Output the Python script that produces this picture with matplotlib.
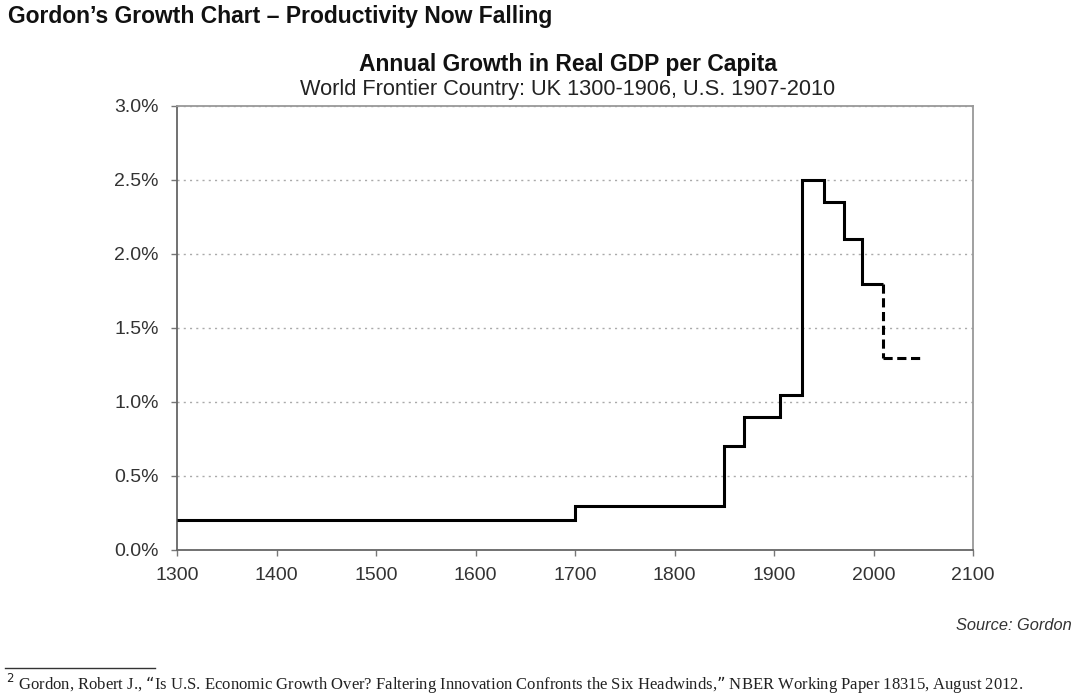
import matplotlib
matplotlib.use('Agg')
import matplotlib.pyplot as plt
from matplotlib.ticker import FuncFormatter

# step edges (years) and growth rate (%) on each step
years = [1300, 1700, 1850, 1870, 1906, 1928, 1950, 1970, 1988, 2010]
growth = [0.2, 0.3, 0.7, 0.9, 1.05, 2.5, 2.35, 2.1, 1.8]
# projection
proj_years = [2010, 2050]
proj_growth = [1.3, 1.3]

plt.rcParams['font.family'] = ['Liberation Sans', 'DejaVu Sans']

fig = plt.figure(figsize=(10.84, 7), dpi=100)
ax = fig.add_axes([177 / 1084, 1 - 550 / 700, (973 - 177) / 1084, (550 - 106) / 700])
ax.set_axisbelow(True)

ax.stairs(growth, years, color='black', lw=2.2, baseline=None, zorder=3)
ax.plot([proj_years[0], proj_years[0]], [growth[-1], proj_growth[0]], color='black', lw=2.2,
        ls=(0, (3, 1.5)), zorder=3)
ax.plot(proj_years, proj_growth, color='black', lw=2.2, ls=(0, (3, 1.5)), zorder=3)

ax.set_xlim(1300, 2100)
ax.set_ylim(0, 3.0)
ax.set_xticks(range(1300, 2101, 100))
ax.set_yticks([0, 0.5, 1.0, 1.5, 2.0, 2.5, 3.0])
ax.yaxis.set_major_formatter(FuncFormatter(lambda v, p: '%.1f%%' % v))
ax.grid(axis='y', color='#aaaaaa', ls=(0, (1.5, 3)), lw=1, zorder=0)
ax.tick_params(labelsize=14, colors='#333333', length=4, width=1)
ax.tick_params(axis='y', pad=9)
ax.tick_params(axis='x', pad=8)
ax.tick_params(axis='both', color='#777777')
for s in ['left', 'bottom']:
    ax.spines[s].set_color('#666666')
    ax.spines[s].set_linewidth(1.3)
for s in ['top', 'right']:
    ax.spines[s].set_color('#999999')
    ax.spines[s].set_linewidth(1.3)

fig.text(8 / 1084, 1 - 16 / 700, 'Gordon\u2019s Growth Chart \u2013 Productivity Now Falling',
         fontsize=16.5, fontweight='bold', va='center', ha='left', color='#111111')
fig.text(568 / 1084, 1 - 64 / 700, 'Annual Growth in Real GDP per Capita',
         fontsize=16.5, fontweight='bold', va='center', ha='center', color='#111111')
fig.text(568 / 1084, 1 - 89 / 700, 'World Frontier Country: UK 1300-1906, U.S. 1907-2010',
         fontsize=15.7, va='center', ha='center', color='#222222')
fig.text(1072 / 1084, 1 - 626 / 700, 'Source: Gordon', fontsize=11.8, style='italic',
         va='center', ha='right', color='#333333')
fig.add_artist(plt.Line2D([5 / 1084, 155 / 1084], [1 - 668 / 700, 1 - 668 / 700], color='#333333', lw=1))
fig.text(6 / 1084, 1 - 684 / 700,
         '$^{2}$ Gordon, Robert J., \u201cIs U.S. Economic Growth Over? Faltering Innovation Confronts the Six Headwinds,\u201d NBER Working Paper 18315, August 2012.',
         fontsize=12, family='Liberation Serif', va='center', ha='left', color='#222222')

fig.savefig('out.png', dpi=100)
